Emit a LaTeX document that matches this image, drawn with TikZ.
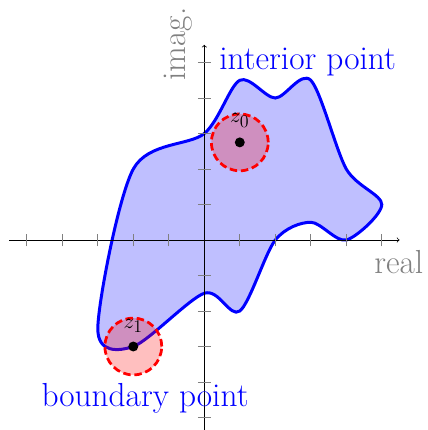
\documentclass[tikz,border=0pt]{standalone}
\begin{document}
\begin{tikzpicture}[x=1cm,y=1cm,
  axisline/.style={->, line width=0.6pt},
  tickmark/.style={gray, line width=0.6pt},
  region/.style={draw=blue, fill=blue!25, line width=2.4pt},
  disc/.style={draw=red, dash pattern=on 6pt off 3pt, line width=2.2pt, fill=red, fill opacity=0.25, draw opacity=1},
  dotmark/.style={circle, fill=black, inner sep=0pt, minimum size=0.28cm},
  bigtext/.style={font=\fontsize{26.7}{32}\selectfont, anchor=base, inner sep=0pt},
  zlabel/.style={font=\fontsize{19}{23}\selectfont, anchor=base, inner sep=0pt},
]
\useasboundingbox (-5.755,-5.352) rectangle (6.301,6.761);
% region
\draw[region] plot[smooth cycle] coordinates {(-2,-3) (0,-1.5) (1,-2) (2,0) (3,0.5) (4,0) (5,1) (4,2) (3,4.5) (2,4) (1,4.5) (0,3) (-2,2) (-3,-2.5)};
% axes
\coordinate (xmin) at (-5.5,0);
\coordinate (xmax) at (5.5,0);
\coordinate (ymin) at (0,-5.5);
\coordinate (ymax) at (0,5.5);
\draw[axisline] (xmin) -- (xmax);
\draw[axisline] (ymin) -- (ymax);
\foreach \t in {-5,-4,-3,-2,-1,1,2,3,4,5} {
  \draw[tickmark] (\t,-0.18) -- (\t,0.18);
  \draw[tickmark] (-0.18,\t) -- (0.18,\t);
}
% discs
\path[disc] (1,2.75) circle (0.8);
\path[disc] (-2,-3) circle (0.8);
\node[dotmark] (z0) at (1,2.75) {};
\node[dotmark] (z1) at (-2,-3) {};
\node[zlabel] (z0lab) at (1,3.30) {$z_0$};
\node[zlabel] (z1lab) at (-2,-2.49) {$z_1$};
% labels
\node[bigtext, text=gray] (reallab) at (5.48,-0.94) {real};
\node[bigtext, text=gray, rotate=90] (imaglab) at (-0.54,5.52) {imag.};
\node[bigtext, text=blue] (interior) at (2.91,4.79) {interior point};
\node[bigtext, text=blue] (boundary) at (-1.67,-4.70) {boundary point};
\end{tikzpicture}
\end{document}
